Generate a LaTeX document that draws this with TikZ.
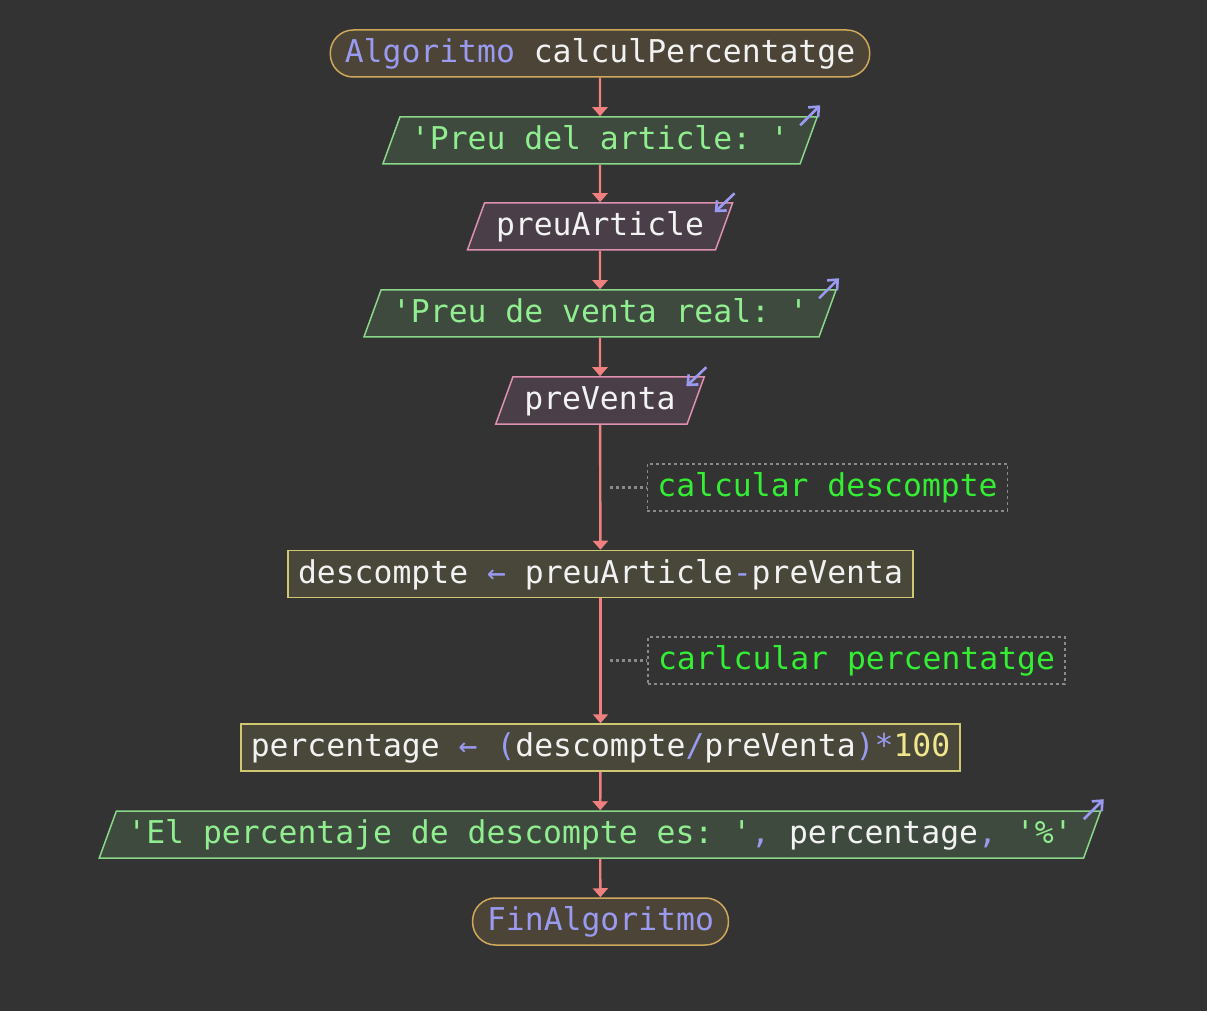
\documentclass[tikz,border=0pt]{standalone}
\usepackage{fontspec}
\setmonofont{DejaVu Sans Mono}
\usetikzlibrary{shapes.geometric,arrows.meta}

\definecolor{bg}{HTML}{333333}
\definecolor{kw}{HTML}{9A9AF0}
\definecolor{txt}{HTML}{F2F2F2}
\definecolor{str}{HTML}{90EE90}
\definecolor{cmt}{HTML}{33EE33}
\definecolor{num}{HTML}{F0E68C}
\definecolor{flow}{HTML}{F08080}
\definecolor{startfill}{HTML}{4B4437}
\definecolor{startdraw}{HTML}{D0A85C}
\definecolor{outfill}{HTML}{3E4A3E}
\definecolor{outdraw}{HTML}{88D888}
\definecolor{infill}{HTML}{4A3F48}
\definecolor{indraw}{HTML}{E090B0}
\definecolor{asgfill}{HTML}{48473A}
\definecolor{asgdraw}{HTML}{D0C870}
\definecolor{cmtdraw}{HTML}{8A8A8A}

\tikzset{
  base/.style={font=\ttfamily\fontsize{15.7}{18}\selectfont, text=txt,
    text height=12pt, text depth=3pt, inner ysep=4.25pt, line width=0.75pt},
  startend/.style={base, rectangle, rounded corners=11.5pt, fill=startfill,
    draw=startdraw, inner xsep=7.25pt},
  outbox/.style={base, trapezium, trapezium left angle=70,
    trapezium right angle=110, fill=outfill, draw=outdraw, inner xsep=5.5pt},
  inbox/.style={base, trapezium, trapezium left angle=70,
    trapezium right angle=110, fill=infill, draw=indraw, inner xsep=5.75pt},
  asgbox/.style={base, rectangle, fill=asgfill, draw=asgdraw, inner xsep=5pt},
  cmtbox/.style={base, rectangle, draw=cmtdraw, dash pattern=on 1.5pt off 1.5pt,
    line width=0.6pt, text=cmt, inner xsep=5pt},
  flowline/.style={draw=flow, line width=1.2pt,
    -{Triangle[length=4.5pt,width=7.5pt]}},
  cmtline/.style={draw=cmtdraw, dash pattern=on 1.5pt off 1.5pt, line width=1.2pt},
  icon/.style={draw=kw, line width=1.3pt, -{Straight Barb[length=4pt,width=7pt]}}
}

\begin{document}
\begin{tikzpicture}[x=0.5pt,y=-0.5pt]

      \fill[bg] (0,0) rectangle (1207,1011);
      \useasboundingbox (0,0) rectangle (1207,1011);

      \node[startend] (start) at (600,53.5) {{\color{kw}Algoritmo} calculPercentatge};
      \node[outbox]   (out1)  at (600,140.5) {\color{str}'Preu del article: '};
      \node[inbox]    (in1)   at (600,226.5) {preuArticle};
      \node[outbox]   (out2)  at (600,313.5) {\color{str}'Preu de venta real: '};
      \node[inbox]    (in2)   at (600,400.5) {preVenta};
      \node[asgbox]   (asg1)  at (600.5,574) {descompte {\color{kw}←} preuArticle{\color{kw}-}preVenta};
      \node[asgbox]   (asg2)  at (600.5,747.5) {percentage {\color{kw}← (}descompte{\color{kw}/}preVenta{\color{kw})*}{\color{num}100}};
      \node[outbox]   (out3)  at (600,834.5) {{\color{str}'El percentaje de descompte es: '}{\color{kw},} percentage{\color{kw},} {\color{str}'\%'}};
      \node[startend] (end)   at (600.5,921.5) {\color{kw}FinAlgoritmo};

      \node[cmtbox]   (cmt1)  at (827.5,487.5) {calcular descompte};
      \node[cmtbox]   (cmt2)  at (856.5,660.5) {carlcular percentatge};
      \coordinate (c1) at (610,487.5);
      \coordinate (c2) at (610,660.5);

      \begin{scope}[every edge/.style={flowline}]
        \path (start) edge (out1);
        \path (out1)  edge (in1);
        \path (in1)   edge (out2);
        \path (out2)  edge (in2);
        \path (in2)   edge (asg1);
        \path (asg1)  edge (asg2);
        \path (asg2)  edge (out3);
        \path (out3)  edge (end);
      \end{scope}

      \draw[cmtline] (c1) -- (cmt1);
      \draw[cmtline] (c2) -- (cmt2);

      % output / input marks
      \draw[icon] ([shift={(-18,9)}]out1.top right corner) -- ++(20,-20);
      \draw[icon] ([shift={(-18,9)}]out2.top right corner) -- ++(20,-20);
      \draw[icon] ([shift={(-18,9)}]out3.top right corner) -- ++(20,-20);
      \draw[icon] ([shift={(1,-9)}]in1.top right corner) -- ++(-20,19);
      \draw[icon] ([shift={(1,-9)}]in2.top right corner) -- ++(-20,19);

    \end{tikzpicture}
\end{document}
